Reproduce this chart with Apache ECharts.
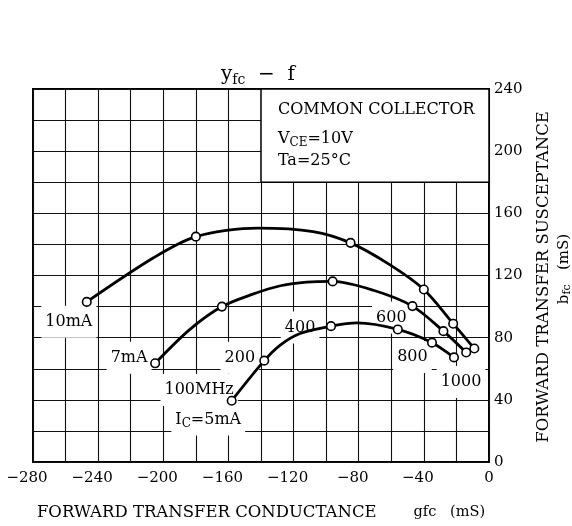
<!DOCTYPE html>
<html><head><meta charset="utf-8">
<script src="https://cdn.jsdelivr.net/npm/echarts@6/dist/echarts.min.js"></script>
<style>html,body{margin:0;padding:0;background:#fff}#c{width:572px;height:526px}</style>
</head><body><div id="c"></div>
<script>
const FONT = 'DejaVu Serif';

// axis ranges (mS)
const xRange = [-280, 0];
const yRange = [0, 240];

// curves: [gfc, bfc]
const curve10mA = [[-247,103],[-206,131.4],[-180,145],[-142,150.5],[-108,148.3],[-85,141],[-61,127],[-40,111],[-22,89],[-9,73]];
const curve7mA  = [[-205,63.5],[-184,85],[-164,100],[-145,108],[-128,113.4],[-112,115.8],[-96,116.2],[-71,110.5],[-47,100.3],[-28,84.2],[-14,70.5]];
const curve5mA  = [[-158,39.4],[-138,65.2],[-128,75.4],[-116,82.7],[-97,87.4],[-81,89.5],[-56,85.3],[-35,76.8],[-21.5,67.3]];

// measured points (100, 200, 400, 600, 800, 1000 MHz)
const points10mA = [[-247,103],[-180,145],[-85,141],[-40,111],[-22,89],[-9,73]];
const points7mA  = [[-205,63.5],[-164,100],[-96,116.2],[-47,100.3],[-28,84.2],[-14,70.5]];
const points5mA  = [[-158,39.4],[-138,65.2],[-97,87.4],[-56,85.3],[-35,76.8],[-21.5,67.3]];

// annotation texts and their anchor in data units
const curveLabels = [
  {text:'10mA', at:[-258,90.3]},
  {text:'7mA', at:[-221,67]},
  {text:'200', at:[-153,67]},
  {text:'100MHz', at:[-178,46.3]},
  {text:'{n|I}{s|C}{n|=5mA}', at:[-172.4,27.4]},
  {text:'400', at:[-116,86.5]},
  {text:'600', at:[-60,93]},
  {text:'800', at:[-47,67.5]},
  {text:'1000', at:[-17.2,51.5]}
];
const boxLines = [
  {text:'{n|COMMON COLLECTOR}', at:[-129.6,226.7]},
  {text:'{n|V}{s|CE}{n|=10V}', at:[-129.6,208]},
  {text:'{n|Ta=25°C}', at:[-129.6,194]}
];
const boxArea = [[-140,180],[0,240]];

const rich = {
  n: {fontFamily: FONT, fontSize: 16, color: '#000', lineHeight: 20, verticalAlign: 'middle'},
  s: {fontFamily: FONT, fontSize: 12, color: '#000', lineHeight: 12, verticalAlign: 'bottom'}
};

const lineSeries = (name, data) => ({
  name, type: 'line', data, smooth: 0.3, smoothMonotone: 'none', showSymbol: false, z: 3,
  lineStyle: {color: '#000', width: 2.8}, silent: true
});
const pointSeries = (name, data) => ({
  name, type: 'scatter', data, symbol: 'circle', symbolSize: 8.5, z: 4,
  itemStyle: {color: '#fff', borderColor: '#000', borderWidth: 1.6, opacity: 1}
});

const chart = echarts.init(document.getElementById('c'));
chart.setOption({
  animation: false,
  backgroundColor: '#fff',
  title: {
    text: '{y|y}{s|fc}{y|  −  f}',
    left: 216, top: 58,
    textStyle: {
      fontWeight: 'normal',
      rich: {
        y: {fontFamily: FONT, fontSize: 20, fontWeight: 'normal', color: '#000', lineHeight: 24, verticalAlign: 'middle'},
        s: {fontFamily: FONT, fontSize: 14, fontWeight: 'normal', color: '#000', lineHeight: 14, verticalAlign: 'bottom'}
      }
    }
  },
  grid: {left: 33, right: 83, top: 89, bottom: 59, show: true, borderColor: '#000', borderWidth: 2, backgroundColor: 'transparent'},
  xAxis: {
    type: 'value', min: xRange[0], max: xRange[1], interval: 20,
    axisLine: {show: false}, axisTick: {show: false},
    splitLine: {show: true, lineStyle: {color: '#111', width: 1.1}},
    axisLabel: {
      margin: 9, color: '#000',
      formatter: v => {
        if (v % 40 !== 0) return '';
        if (v === 0) return '{d|0}';
        return '{m|−}{d|' + Math.abs(v) + '}{p|}';
      },
      rich: {
        m: {fontFamily: FONT, fontSize: 15, color: '#000'},
        d: {fontFamily: FONT, fontSize: 15, color: '#000'},
        p: {width: 12}
      }
    },
    name: 'FORWARD TRANSFER CONDUCTANCE{g|        gfc   (mS)}',
    nameLocation: 'middle', nameGap: 42,
    nameTextStyle: {
      fontFamily: FONT, fontSize: 16.5, color: '#000',
      rich: {g: {fontFamily: FONT, fontSize: 14.5, color: '#000'}}
    }
  },
  yAxis: {
    type: 'value', position: 'right', min: yRange[0], max: yRange[1], interval: 20,
    axisLine: {show: false}, axisTick: {show: false},
    splitLine: {show: true, lineStyle: {color: '#111', width: 1.1}},
    axisLabel: {
      margin: 5, color: '#000', fontFamily: FONT, fontSize: 15,
      formatter: v => (v % 40 === 0 ? String(v) : '')
    }
  },
  graphic: [
    {type: 'text', x: 544, y: 277, rotation: Math.PI / 2,
     style: {text: 'FORWARD TRANSFER SUSCEPTANCE', fontFamily: FONT, fontSize: 16.5, fill: '#000', align: 'center', verticalAlign: 'middle'}},
    {type: 'text', x: 564, y: 269, rotation: Math.PI / 2,
     style: {text: '{n|b}{s|fc}{n|   (mS)}', align: 'center', verticalAlign: 'middle',
       rich: {
         n: {fontFamily: FONT, fontSize: 15, fill: '#000', lineHeight: 18, verticalAlign: 'middle'},
         s: {fontFamily: FONT, fontSize: 11, fill: '#000', lineHeight: 11, verticalAlign: 'bottom'}
       }}}
  ],
  series: [
    {
      name: 'labels', type: 'scatter', symbolSize: 0, z: 2, silent: true,
      itemStyle: {opacity: 1},
      data: curveLabels.map(d => ({value: d.at, label: {formatter: d.text.indexOf('{') < 0 ? '{n|' + d.text + '}' : d.text}})),
      label: {show: true, position: 'inside', backgroundColor: '#fff', padding: [6, 4, 6, 4], rich},
      markArea: {
        silent: true,
        itemStyle: {color: '#fff', borderColor: '#000', borderWidth: 1.5, opacity: 1},
        data: [[{coord: boxArea[0]}, {coord: boxArea[1]}]]
      }
    },
    {
      name: 'box', type: 'scatter', symbolSize: 0, z: 5, silent: true,
      itemStyle: {opacity: 1},
      data: boxLines.map(d => ({value: d.at, label: {formatter: d.text}})),
      label: {show: true, position: 'right', distance: 0, rich}
    },
    lineSeries('10mA', curve10mA),
    lineSeries('7mA', curve7mA),
    lineSeries('5mA', curve5mA),
    pointSeries('10mA pts', points10mA),
    pointSeries('7mA pts', points7mA),
    pointSeries('5mA pts', points5mA)
  ]
});
</script></body></html>
